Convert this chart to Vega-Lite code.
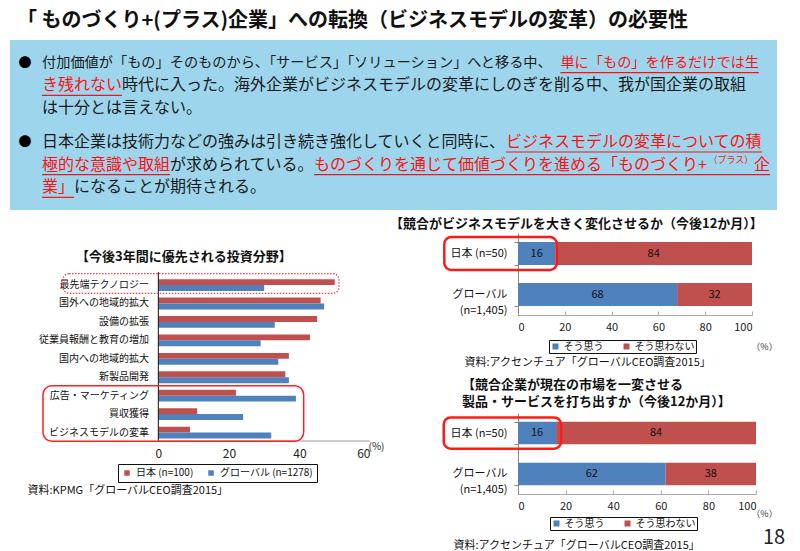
{
  "$schema": "https://vega.github.io/schema/vega-lite/v6.json",
  "background": "white",
  "padding": {"left": 10, "top": 11, "right": 0, "bottom": 0},
  "config": {"font": "Noto Sans CJK JP", "view": {"stroke": null}},
  "title": {"text": "18", "orient": "bottom", "anchor": "end", "offset": -22, "dx": 8, "fontSize": 20, "fontWeight": "normal", "color": "#222"},
  "datasets": {
    "lines": [
      {"line": 0, "col": 0, "text": "付加価値が「もの」そのものから、「サービス」「ソリューション」へと移る中、", "emph": "通常"},
      {"line": 0, "col": 32.4, "text": "単に「もの」を作るだけでは生", "emph": "強調"},
      {"line": 1, "col": 0, "text": "き残れない", "emph": "強調"},
      {"line": 1, "col": 5, "text": "時代に入った。海外企業がビジネスモデルの変革にしのぎを削る中、我が国企業の取組", "emph": "通常"},
      {"line": 2, "col": 0, "text": "は十分とは言えない。", "emph": "通常"},
      {"line": 3.5, "col": 0, "text": "日本企業は技術力などの強みは引き続き強化していくと同時に、", "emph": "通常"},
      {"line": 3.5, "col": 29, "text": "ビジネスモデルの変革についての積", "emph": "強調"},
      {"line": 4.5, "col": 0, "text": "極的な意識や取組", "emph": "強調"},
      {"line": 4.5, "col": 8, "text": "が求められている。", "emph": "通常"},
      {"line": 4.5, "col": 17, "text": "ものづくりを通じて価値づくりを進める「ものづくり+", "emph": "強調"},
      {"line": 4.5, "col": 44.5, "text": "企", "emph": "強調"},
      {"line": 5.5, "col": 0, "text": "業」", "emph": "強調"},
      {"line": 5.5, "col": 2, "text": "になることが期待される。", "emph": "通常"}
    ],
    "sup": [{"line": 4.5, "col": 41.65, "text": "（プラス）"}],
    "bullets": [{"line": 0, "col": -1.06}, {"line": 3.5, "col": -1.06}],
    "underlines": [
      {"line": 0, "col": 32.4, "end": 44.8},
      {"line": 1, "col": 0, "end": 5},
      {"line": 3.5, "col": 29, "end": 45},
      {"line": 4.5, "col": 0, "end": 8},
      {"line": 4.5, "col": 17, "end": 45.5},
      {"line": 5.5, "col": 0, "end": 2}
    ],
    "invest": [
      {"item": "最先端テクノロジー", "series": "日本 (n=100)", "value": 50},
      {"item": "最先端テクノロジー", "series": "グローバル (n=1278)", "value": 30},
      {"item": "国外への地域的拡大", "series": "日本 (n=100)", "value": 46},
      {"item": "国外への地域的拡大", "series": "グローバル (n=1278)", "value": 47},
      {"item": "設備の拡張", "series": "日本 (n=100)", "value": 45},
      {"item": "設備の拡張", "series": "グローバル (n=1278)", "value": 33},
      {"item": "従業員報酬と教育の増加", "series": "日本 (n=100)", "value": 43},
      {"item": "従業員報酬と教育の増加", "series": "グローバル (n=1278)", "value": 29},
      {"item": "国内への地域的拡大", "series": "日本 (n=100)", "value": 37},
      {"item": "国内への地域的拡大", "series": "グローバル (n=1278)", "value": 34},
      {"item": "新製品開発", "series": "日本 (n=100)", "value": 36},
      {"item": "新製品開発", "series": "グローバル (n=1278)", "value": 37},
      {"item": "広告・マーケティング", "series": "日本 (n=100)", "value": 22},
      {"item": "広告・マーケティング", "series": "グローバル (n=1278)", "value": 39},
      {"item": "買収獲得", "series": "日本 (n=100)", "value": 11},
      {"item": "買収獲得", "series": "グローバル (n=1278)", "value": 24},
      {"item": "ビジネスモデルの変革", "series": "日本 (n=100)", "value": 9},
      {"item": "ビジネスモデルの変革", "series": "グローバル (n=1278)", "value": 32}
    ],
    "r1": [
      {"group": "日本 (n=50)", "answer": "そう思う", "value": 16},
      {"group": "日本 (n=50)", "answer": "そう思わない", "value": 84},
      {"group": "グローバル (n=1,405)", "answer": "そう思う", "value": 68},
      {"group": "グローバル (n=1,405)", "answer": "そう思わない", "value": 32}
    ],
    "r2": [
      {"group": "日本 (n=50)", "answer": "そう思う", "value": 16},
      {"group": "日本 (n=50)", "answer": "そう思わない", "value": 84},
      {"group": "グローバル (n=1,405)", "answer": "そう思う", "value": 62},
      {"group": "グローバル (n=1,405)", "answer": "そう思わない", "value": 38}
    ]
  },
  "spacing": 8,
  "resolve": {"scale": {"color": "independent", "x": "independent", "y": "independent"}, "legend": {"color": "independent"}},
  "vconcat": [
    {
      "width": 767,
      "height": 170,
      "view": {"fill": "#9dd6ec", "stroke": null},
      "title": {"text": "「 ものづくり+(プラス)企業」への転換（ビジネスモデルの変革）の必要性", "anchor": "start", "frame": "group", "dx": 7, "offset": 9, "fontSize": 20, "fontWeight": "bold", "color": "#111"},
      "layer": [
        {
          "data": {"name": "lines"},
          "transform": [{"filter": "datum.line == 0"}],
          "mark": {"type": "text", "align": "left", "baseline": "middle", "fontSize": 14.2},
          "encoding": {
            "x": {"field": "col", "type": "quantitative", "scale": {"domain": [-2, 45.9375], "nice": false, "zero": false}, "axis": null},
            "y": {"field": "line", "type": "quantitative", "scale": {"domain": [-1, 6.5], "reverse": true, "nice": false, "zero": false}, "axis": null},
            "text": {"field": "text"},
            "color": {"field": "emph", "type": "nominal", "scale": {"domain": ["通常", "強調"], "range": ["#1a1a1a", "#ff1010"]}, "legend": null}
          }
        },
        {
          "data": {"name": "lines"},
          "transform": [{"filter": "datum.line != 0"}],
          "mark": {"type": "text", "align": "left", "baseline": "middle", "fontSize": 16},
          "encoding": {
            "x": {"field": "col", "type": "quantitative", "scale": {"domain": [-2, 45.9375], "nice": false, "zero": false}, "axis": null},
            "y": {"field": "line", "type": "quantitative", "scale": {"domain": [-1, 6.5], "reverse": true, "nice": false, "zero": false}, "axis": null},
            "text": {"field": "text"},
            "color": {"field": "emph", "type": "nominal", "scale": {"domain": ["通常", "強調"], "range": ["#1a1a1a", "#ff1010"]}, "legend": null}
          }
        },
        {
          "data": {"name": "sup"},
          "mark": {"type": "text", "align": "left", "baseline": "middle", "fontSize": 9, "dy": -5, "color": "#ff1010"},
          "encoding": {
            "x": {"field": "col", "type": "quantitative", "scale": {"domain": [-2, 45.9375], "nice": false, "zero": false}, "axis": null},
            "y": {"field": "line", "type": "quantitative", "scale": {"domain": [-1, 6.5], "reverse": true, "nice": false, "zero": false}, "axis": null},
            "text": {"field": "text"}
          }
        },
        {
          "data": {"name": "bullets"},
          "mark": {"type": "text", "align": "center", "baseline": "middle", "fontSize": 13, "color": "#000"},
          "encoding": {
            "x": {"field": "col", "type": "quantitative", "scale": {"domain": [-2, 45.9375], "nice": false, "zero": false}, "axis": null},
            "y": {"field": "line", "type": "quantitative", "scale": {"domain": [-1, 6.5], "reverse": true, "nice": false, "zero": false}, "axis": null},
            "text": {"value": "●"}
          }
        },
        {
          "data": {"name": "underlines"},
          "mark": {"type": "rule", "color": "#ff1010", "strokeWidth": 1.2, "yOffset": 10},
          "encoding": {
            "x": {"field": "col", "type": "quantitative", "scale": {"domain": [-2, 45.9375], "nice": false, "zero": false}, "axis": null},
            "x2": {"field": "end"},
            "y": {"field": "line", "type": "quantitative", "scale": {"domain": [-1, 6.5], "reverse": true, "nice": false, "zero": false}, "axis": null}
          }
        }
      ]
    },
    {
      "spacing": 6,
      "resolve": {"scale": {"color": "independent", "x": "independent", "y": "independent"}, "legend": {"color": "independent"}},
      "hconcat": [
        {
          "width": 360,
          "height": 208,
          "title": {"text": "【今後3年間に優先される投資分野】", "fontSize": 13, "fontWeight": "bold", "anchor": "start", "frame": "group", "dx": 66, "offset": -31, "color": "#111"},
          "resolve": {"scale": {"y": "independent"}, "axis": {"y": "independent"}},
          "layer": [
            {
              "data": {"name": "invest"},
              "mark": {"type": "bar"},
              "encoding": {
                "y": {
                  "field": "item", "type": "nominal",
                  "sort": ["最先端テクノロジー", "国外への地域的拡大", "設備の拡張", "従業員報酬と教育の増加", "国内への地域的拡大", "新製品開発", "広告・マーケティング", "買収獲得", "ビジネスモデルの変革"],
                  "scale": {"domain": ["", "最先端テクノロジー", "国外への地域的拡大", "設備の拡張", "従業員報酬と教育の増加", "国内への地域的拡大", "新製品開発", "広告・マーケティング", "買収獲得", "ビジネスモデルの変革"], "paddingInner": 0.36, "paddingOuter": 0.82, "align": 0.916},
                  "axis": {"offset": -148.4, "domain": false, "title": "資料:KPMG「グローバルCEO調査2015」", "titleAngle": 0, "titleAlign": "left", "titleBaseline": "middle", "titleX": -131.4, "titleY": 257, "titleFontSize": 11, "titleFontWeight": "normal", "titleColor": "#111", "labelFontSize": 10, "labelColor": "#111", "labelPadding": 10, "labelLimit": 200, "ticks": false}
                },
                "yOffset": {"field": "series", "type": "nominal", "sort": ["日本 (n=100)", "グローバル (n=1278)"]},
                "x": {
                  "field": "value", "type": "quantitative", "title": "(%)",
                  "scale": {"domain": [-42.05, 60], "nice": false, "zero": false},
                  "axis": {"values": [0, 20, 40, 60], "grid": false, "ticks": false, "domain": false, "labelFontSize": 12, "labelColor": "#222", "labelPadding": 7, "titleX": 358, "titleY": 5, "titleAlign": "left", "titleBaseline": "middle", "titleFontSize": 10, "titleFontWeight": "normal", "titleColor": "#222"}
                },
                "color": {
                  "field": "series", "type": "nominal",
                  "scale": {"domain": ["日本 (n=100)", "グローバル (n=1278)"], "range": ["#c0504d", "#4f81bd"]},
                  "legend": {"orient": "none", "legendX": 108, "legendY": 231, "direction": "horizontal", "title": null, "strokeColor": "#111", "padding": 4, "symbolType": "square", "symbolSize": 30, "labelFontSize": 10, "labelColor": "#111", "columnPadding": 12, "labelOffset": 4}
                }
              }
            },
            {
              "data": {"values": [{"at": 0, "top": -0.7, "bottom": 8.46}]},
              "mark": {"type": "rule", "color": "#111", "strokeWidth": 1},
              "encoding": {
                "x": {"field": "at", "type": "quantitative", "title": "(%)", "scale": {"domain": [-42.05, 60], "nice": false, "zero": false}},
                "y": {"field": "top", "type": "quantitative", "scale": {"domain": [-2.82, 8.46], "reverse": true, "nice": false, "zero": false}, "axis": null},
                "y2": {"field": "bottom"}
              }
            },
            {
              "data": {"values": [{"from": 0, "to": 60, "at": 8.46}]},
              "mark": {"type": "rule", "color": "#9a9a9a", "strokeWidth": 1},
              "encoding": {
                "x": {"field": "from", "type": "quantitative", "title": "(%)", "scale": {"domain": [-42.05, 60], "nice": false, "zero": false}},
                "x2": {"field": "to"},
                "y": {"field": "at", "type": "quantitative", "scale": {"domain": [-2.82, 8.46], "reverse": true, "nice": false, "zero": false}, "axis": null}
              }
            },
            {
              "data": {"values": [{"top": -0.62, "bottom": 0.45, "from": -27, "to": 51.2}]},
              "mark": {"type": "rect", "fillOpacity": 0, "stroke": "#e8463c", "strokeWidth": 1.3, "strokeDash": [1.5, 1.5], "cornerRadius": 6},
              "encoding": {
                "x": {"field": "from", "type": "quantitative", "title": "(%)", "scale": {"domain": [-42.05, 60], "nice": false, "zero": false}},
                "x2": {"field": "to"},
                "y": {"field": "top", "type": "quantitative", "scale": {"domain": [-2.82, 8.46], "reverse": true, "nice": false, "zero": false}, "axis": null},
                "y2": {"field": "bottom"}
              }
            },
            {
              "data": {"values": [{"top": 5.46, "bottom": 8.48, "from": -32.7, "to": 41.2}]},
              "mark": {"type": "rect", "fillOpacity": 0, "stroke": "#ff2020", "strokeWidth": 1.5, "cornerRadius": 9},
              "encoding": {
                "x": {"field": "from", "type": "quantitative", "title": "(%)", "scale": {"domain": [-42.05, 60], "nice": false, "zero": false}},
                "x2": {"field": "to"},
                "y": {"field": "top", "type": "quantitative", "scale": {"domain": [-2.82, 8.46], "reverse": true, "nice": false, "zero": false}, "axis": null},
                "y2": {"field": "bottom"}
              }
            }
          ]
        },
        {
          "spacing": 98,
          "bounds": "flush",
          "resolve": {"scale": {"color": "independent", "x": "independent", "y": "independent"}, "legend": {"color": "independent"}},
          "vconcat": [
            {
              "width": 234,
              "height": 82,
              "title": {"text": "【競合がビジネスモデルを大きく変化させるか（今後12か月）】", "anchor": "start", "frame": "group", "dx": -128, "offset": -4, "fontSize": 13, "fontWeight": "bold", "color": "#111"},
              "data": {"name": "r1"},
              "encoding": {
                "y": {
                  "field": "group", "type": "nominal", "sort": ["日本 (n=50)", "グローバル (n=1,405)"],
                  "scale": {"paddingInner": 0.44, "paddingOuter": 0.22},
                  "axis": {"title": "資料:アクセンチュア「グローバルCEO調査2015」", "titleAngle": 0, "titleAlign": "left", "titleBaseline": "middle", "titleX": -54, "titleY": 129, "titleFontSize": 11, "titleFontWeight": "normal", "titleColor": "#111", "labelFontSize": 11, "labelColor": "#111", "labelPadding": 7, "tickSize": 4, "tickBand": "extent", "tickColor": "#888", "domainColor": "#888", "labelExpr": "datum.label == 'グローバル (n=1,405)' ? ['グローバル', '(n=1,405)'] : datum.label", "labelLineHeight": 16}
                }
              },
              "layer": [
                {
                  "mark": {"type": "bar"},
                  "encoding": {
                    "x": {
                      "field": "value", "type": "quantitative", "stack": "zero", "title": "（%）",
                      "scale": {"domain": [0, 100], "nice": false},
                      "axis": {"values": [0, 20, 40, 60, 80, 100], "grid": false, "domainColor": "#aaa", "tickColor": "#aaa", "tickSize": -4, "labelFontSize": 11, "labelColor": "#222", "labelPadding": 10, "titleX": 246, "titleY": 31, "titleAlign": "center", "titleBaseline": "middle", "titleFontSize": 9, "titleFontWeight": "normal", "titleColor": "#333"}
                    },
                    "order": {"field": "answer", "sort": "ascending"},
                    "color": {
                      "field": "answer", "type": "nominal",
                      "scale": {"domain": ["そう思う", "そう思わない"], "range": ["#4f81bd", "#c0504d"]},
                      "legend": {"orient": "none", "legendX": 31, "legendY": 107, "direction": "horizontal", "title": null, "strokeColor": "#111", "padding": 1.5, "symbolType": "square", "symbolSize": 36, "labelFontSize": 10, "labelColor": "#111", "columnPadding": 18, "labelOffset": 3}
                    }
                  }
                },
                {
                  "mark": {"type": "text", "fontSize": 11, "color": "#111"},
                  "encoding": {
                    "x": {"field": "value", "type": "quantitative", "stack": "zero", "bandPosition": 0.5, "title": "（%）"},
                    "detail": {"field": "answer"},
                    "order": {"field": "answer", "sort": "ascending"},
                    "text": {"field": "value", "type": "quantitative"}
                  }
                },
                {
                  "data": {"values": [{"group": "日本 (n=50)", "from": -31.5, "to": 16.6}]},
                  "mark": {"type": "bar", "fillOpacity": 0, "stroke": "#ff1a1a", "strokeWidth": 2.5, "cornerRadius": 7, "height": {"band": 1.43}},
                  "encoding": {
                    "x": {"field": "from", "type": "quantitative", "title": "（%）"},
                    "x2": {"field": "to"}
                  }
                }
              ]
            },
            {
              "width": 238,
              "height": 81,
              "title": {"text": ["【競合企業が現在の市場を一変させる", "　製品・サービスを打ち出すか（今後12か月）】"], "lineHeight": 17, "anchor": "start", "frame": "group", "dx": -56, "offset": -2, "fontSize": 13, "fontWeight": "bold", "color": "#111"},
              "data": {"name": "r2"},
              "encoding": {
                "y": {
                  "field": "group", "type": "nominal", "sort": ["日本 (n=50)", "グローバル (n=1,405)"],
                  "scale": {"paddingInner": 0.45, "paddingOuter": 0.215},
                  "axis": {"title": "資料:アクセンチュア「グローバルCEO調査2015」", "titleAngle": 0, "titleAlign": "left", "titleBaseline": "middle", "titleX": -65, "titleY": 132, "titleFontSize": 11, "titleFontWeight": "normal", "titleColor": "#111", "labelFontSize": 11, "labelColor": "#111", "labelPadding": 7, "tickSize": 4, "tickBand": "extent", "tickColor": "#888", "domainColor": "#888", "labelExpr": "datum.label == 'グローバル (n=1,405)' ? ['グローバル', '(n=1,405)'] : datum.label", "labelLineHeight": 16}
                }
              },
              "layer": [
                {
                  "mark": {"type": "bar"},
                  "encoding": {
                    "x": {
                      "field": "value", "type": "quantitative", "stack": "zero", "title": "（%）",
                      "scale": {"domain": [0, 100], "nice": false},
                      "axis": {"values": [0, 20, 40, 60, 80, 100], "grid": false, "domainColor": "#aaa", "tickColor": "#aaa", "tickSize": -4, "labelFontSize": 11, "labelColor": "#222", "labelPadding": 10, "titleX": 246, "titleY": 19, "titleAlign": "center", "titleBaseline": "middle", "titleFontSize": 9, "titleFontWeight": "normal", "titleColor": "#333"}
                    },
                    "order": {"field": "answer", "sort": "ascending"},
                    "color": {
                      "field": "answer", "type": "nominal",
                      "scale": {"domain": ["そう思う", "そう思わない"], "range": ["#4f81bd", "#c0504d"]},
                      "legend": {"orient": "none", "legendX": 32, "legendY": 104, "direction": "horizontal", "title": null, "strokeColor": "#111", "padding": 1.5, "symbolType": "square", "symbolSize": 36, "labelFontSize": 10, "labelColor": "#111", "columnPadding": 18, "labelOffset": 3}
                    }
                  }
                },
                {
                  "mark": {"type": "text", "fontSize": 11, "color": "#111"},
                  "encoding": {
                    "x": {"field": "value", "type": "quantitative", "stack": "zero", "bandPosition": 0.5, "title": "（%）"},
                    "detail": {"field": "answer"},
                    "order": {"field": "answer", "sort": "ascending"},
                    "text": {"field": "value", "type": "quantitative"}
                  }
                },
                {
                  "data": {"values": [{"group": "日本 (n=50)", "from": -31.2, "to": 18.1}]},
                  "mark": {"type": "bar", "fillOpacity": 0, "stroke": "#ff1a1a", "strokeWidth": 2.5, "cornerRadius": 7, "height": {"band": 1.39}},
                  "encoding": {
                    "x": {"field": "from", "type": "quantitative", "title": "（%）"},
                    "x2": {"field": "to"}
                  }
                }
              ]
            }
          ]
        }
      ]
    }
  ]
}
